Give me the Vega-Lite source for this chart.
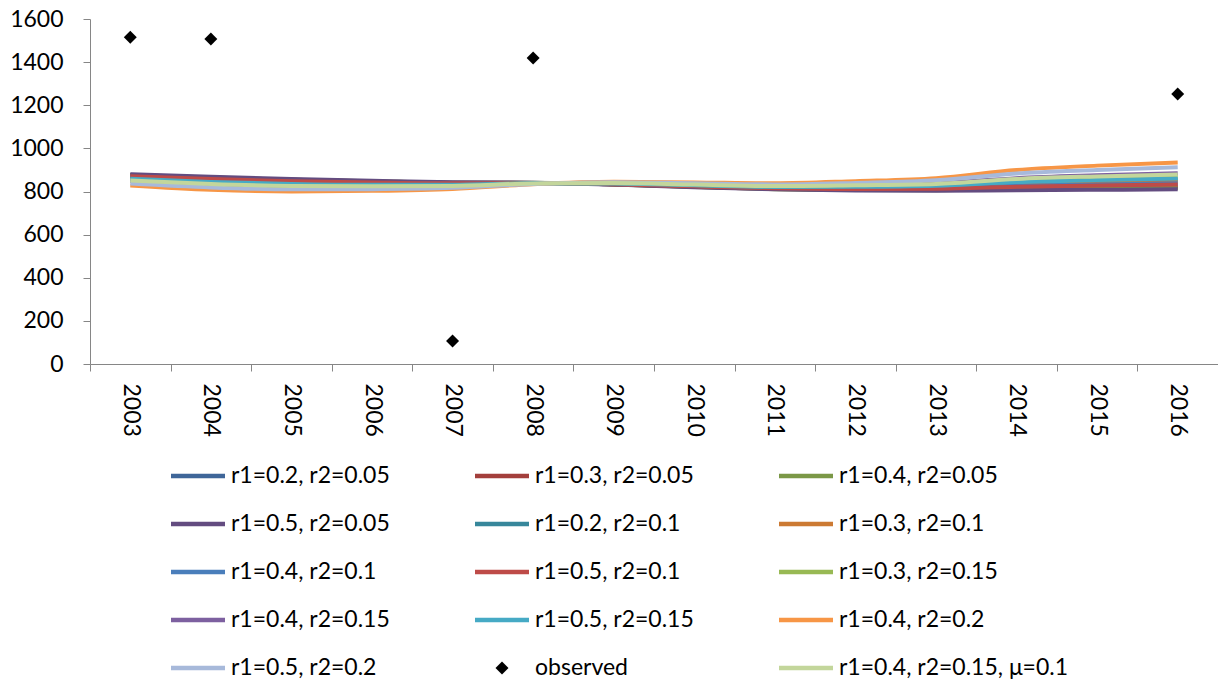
{
"$schema": "https://vega.github.io/schema/vega-lite/v6.json",
"width": 1128, "height": 345,
"autosize": {"type": "none"},
"padding": {"left": 90, "top": 19, "right": 0, "bottom": 323},
"background": "white",
"config": {
  "view": {"stroke": null},
  "font": "Lato",
  "axis": {"labelFont": "Lato", "labelFontSize": 23, "labelColor": "black", "domainColor": "#868686", "tickColor": "#868686", "domainWidth": 1, "tickWidth": 1, "tickSize": 7, "grid": false, "title": null},
  "legend": {"orient": "none", "legendX": 90, "legendY": 439, "columns": 3, "direction": "horizontal", "gridAlign": "each", "symbolSize": 1296, "labelFont": "Lato", "labelFontSize": 23, "labelColor": "black", "rowPadding": 18, "columnPadding": 85, "labelOffset": 15, "labelLimit": 400, "symbolStrokeWidth": 0, "symbolOpacity": 1}
},
"datasets": {"d": [
{"y":"2003","s":"r1=0.2, r2=0.05","v":874},{"y":"2004","s":"r1=0.2, r2=0.05","v":861},{"y":"2005","s":"r1=0.2, r2=0.05","v":851},{"y":"2006","s":"r1=0.2, r2=0.05","v":844},{"y":"2007","s":"r1=0.2, r2=0.05","v":839},{"y":"2008","s":"r1=0.2, r2=0.05","v":840},{"y":"2009","s":"r1=0.2, r2=0.05","v":834},{"y":"2010","s":"r1=0.2, r2=0.05","v":823},{"y":"2011","s":"r1=0.2, r2=0.05","v":814},{"y":"2012","s":"r1=0.2, r2=0.05","v":810},{"y":"2013","s":"r1=0.2, r2=0.05","v":810},{"y":"2014","s":"r1=0.2, r2=0.05","v":818},{"y":"2015","s":"r1=0.2, r2=0.05","v":822},{"y":"2016","s":"r1=0.2, r2=0.05","v":826},
{"y":"2003","s":"r1=0.3, r2=0.05","v":876},{"y":"2004","s":"r1=0.3, r2=0.05","v":864},{"y":"2005","s":"r1=0.3, r2=0.05","v":854},{"y":"2006","s":"r1=0.3, r2=0.05","v":846},{"y":"2007","s":"r1=0.3, r2=0.05","v":841},{"y":"2008","s":"r1=0.3, r2=0.05","v":840},{"y":"2009","s":"r1=0.3, r2=0.05","v":833},{"y":"2010","s":"r1=0.3, r2=0.05","v":822},{"y":"2011","s":"r1=0.3, r2=0.05","v":812},{"y":"2012","s":"r1=0.3, r2=0.05","v":808},{"y":"2013","s":"r1=0.3, r2=0.05","v":807},{"y":"2014","s":"r1=0.3, r2=0.05","v":813},{"y":"2015","s":"r1=0.3, r2=0.05","v":816},{"y":"2016","s":"r1=0.3, r2=0.05","v":819},
{"y":"2003","s":"r1=0.4, r2=0.05","v":877},{"y":"2004","s":"r1=0.4, r2=0.05","v":865},{"y":"2005","s":"r1=0.4, r2=0.05","v":855},{"y":"2006","s":"r1=0.4, r2=0.05","v":848},{"y":"2007","s":"r1=0.4, r2=0.05","v":841},{"y":"2008","s":"r1=0.4, r2=0.05","v":841},{"y":"2009","s":"r1=0.4, r2=0.05","v":833},{"y":"2010","s":"r1=0.4, r2=0.05","v":821},{"y":"2011","s":"r1=0.4, r2=0.05","v":811},{"y":"2012","s":"r1=0.4, r2=0.05","v":807},{"y":"2013","s":"r1=0.4, r2=0.05","v":806},{"y":"2014","s":"r1=0.4, r2=0.05","v":811},{"y":"2015","s":"r1=0.4, r2=0.05","v":814},{"y":"2016","s":"r1=0.4, r2=0.05","v":816},
{"y":"2003","s":"r1=0.5, r2=0.05","v":880},{"y":"2004","s":"r1=0.5, r2=0.05","v":868},{"y":"2005","s":"r1=0.5, r2=0.05","v":858},{"y":"2006","s":"r1=0.5, r2=0.05","v":850},{"y":"2007","s":"r1=0.5, r2=0.05","v":843},{"y":"2008","s":"r1=0.5, r2=0.05","v":841},{"y":"2009","s":"r1=0.5, r2=0.05","v":832},{"y":"2010","s":"r1=0.5, r2=0.05","v":820},{"y":"2011","s":"r1=0.5, r2=0.05","v":810},{"y":"2012","s":"r1=0.5, r2=0.05","v":805},{"y":"2013","s":"r1=0.5, r2=0.05","v":803},{"y":"2014","s":"r1=0.5, r2=0.05","v":806},{"y":"2015","s":"r1=0.5, r2=0.05","v":808},{"y":"2016","s":"r1=0.5, r2=0.05","v":810},
{"y":"2003","s":"r1=0.2, r2=0.1","v":862},{"y":"2004","s":"r1=0.2, r2=0.1","v":847},{"y":"2005","s":"r1=0.2, r2=0.1","v":838},{"y":"2006","s":"r1=0.2, r2=0.1","v":834},{"y":"2007","s":"r1=0.2, r2=0.1","v":832},{"y":"2008","s":"r1=0.2, r2=0.1","v":839},{"y":"2009","s":"r1=0.2, r2=0.1","v":837},{"y":"2010","s":"r1=0.2, r2=0.1","v":828},{"y":"2011","s":"r1=0.2, r2=0.1","v":820},{"y":"2012","s":"r1=0.2, r2=0.1","v":820},{"y":"2013","s":"r1=0.2, r2=0.1","v":824},{"y":"2014","s":"r1=0.2, r2=0.1","v":839},{"y":"2015","s":"r1=0.2, r2=0.1","v":847},{"y":"2016","s":"r1=0.2, r2=0.1","v":854},
{"y":"2003","s":"r1=0.3, r2=0.1","v":866},{"y":"2004","s":"r1=0.3, r2=0.1","v":852},{"y":"2005","s":"r1=0.3, r2=0.1","v":842},{"y":"2006","s":"r1=0.3, r2=0.1","v":837},{"y":"2007","s":"r1=0.3, r2=0.1","v":834},{"y":"2008","s":"r1=0.3, r2=0.1","v":839},{"y":"2009","s":"r1=0.3, r2=0.1","v":836},{"y":"2010","s":"r1=0.3, r2=0.1","v":826},{"y":"2011","s":"r1=0.3, r2=0.1","v":818},{"y":"2012","s":"r1=0.3, r2=0.1","v":817},{"y":"2013","s":"r1=0.3, r2=0.1","v":819},{"y":"2014","s":"r1=0.3, r2=0.1","v":832},{"y":"2015","s":"r1=0.3, r2=0.1","v":839},{"y":"2016","s":"r1=0.3, r2=0.1","v":844},
{"y":"2003","s":"r1=0.4, r2=0.1","v":868},{"y":"2004","s":"r1=0.4, r2=0.1","v":855},{"y":"2005","s":"r1=0.4, r2=0.1","v":845},{"y":"2006","s":"r1=0.4, r2=0.1","v":839},{"y":"2007","s":"r1=0.4, r2=0.1","v":836},{"y":"2008","s":"r1=0.4, r2=0.1","v":839},{"y":"2009","s":"r1=0.4, r2=0.1","v":835},{"y":"2010","s":"r1=0.4, r2=0.1","v":825},{"y":"2011","s":"r1=0.4, r2=0.1","v":816},{"y":"2012","s":"r1=0.4, r2=0.1","v":815},{"y":"2013","s":"r1=0.4, r2=0.1","v":816},{"y":"2014","s":"r1=0.4, r2=0.1","v":827},{"y":"2015","s":"r1=0.4, r2=0.1","v":833},{"y":"2016","s":"r1=0.4, r2=0.1","v":838},
{"y":"2003","s":"r1=0.5, r2=0.1","v":871},{"y":"2004","s":"r1=0.5, r2=0.1","v":858},{"y":"2005","s":"r1=0.5, r2=0.1","v":848},{"y":"2006","s":"r1=0.5, r2=0.1","v":842},{"y":"2007","s":"r1=0.5, r2=0.1","v":838},{"y":"2008","s":"r1=0.5, r2=0.1","v":840},{"y":"2009","s":"r1=0.5, r2=0.1","v":834},{"y":"2010","s":"r1=0.5, r2=0.1","v":824},{"y":"2011","s":"r1=0.5, r2=0.1","v":815},{"y":"2012","s":"r1=0.5, r2=0.1","v":812},{"y":"2013","s":"r1=0.5, r2=0.1","v":813},{"y":"2014","s":"r1=0.5, r2=0.1","v":822},{"y":"2015","s":"r1=0.5, r2=0.1","v":828},{"y":"2016","s":"r1=0.5, r2=0.1","v":832},
{"y":"2003","s":"r1=0.3, r2=0.15","v":855},{"y":"2004","s":"r1=0.3, r2=0.15","v":840},{"y":"2005","s":"r1=0.3, r2=0.15","v":830},{"y":"2006","s":"r1=0.3, r2=0.15","v":828},{"y":"2007","s":"r1=0.3, r2=0.15","v":828},{"y":"2008","s":"r1=0.3, r2=0.15","v":838},{"y":"2009","s":"r1=0.3, r2=0.15","v":838},{"y":"2010","s":"r1=0.3, r2=0.15","v":830},{"y":"2011","s":"r1=0.3, r2=0.15","v":823},{"y":"2012","s":"r1=0.3, r2=0.15","v":825},{"y":"2013","s":"r1=0.3, r2=0.15","v":831},{"y":"2014","s":"r1=0.3, r2=0.15","v":851},{"y":"2015","s":"r1=0.3, r2=0.15","v":861},{"y":"2016","s":"r1=0.3, r2=0.15","v":869},
{"y":"2003","s":"r1=0.4, r2=0.15","v":849},{"y":"2004","s":"r1=0.4, r2=0.15","v":832},{"y":"2005","s":"r1=0.4, r2=0.15","v":823},{"y":"2006","s":"r1=0.4, r2=0.15","v":822},{"y":"2007","s":"r1=0.4, r2=0.15","v":824},{"y":"2008","s":"r1=0.4, r2=0.15","v":837},{"y":"2009","s":"r1=0.4, r2=0.15","v":840},{"y":"2010","s":"r1=0.4, r2=0.15","v":833},{"y":"2011","s":"r1=0.4, r2=0.15","v":827},{"y":"2012","s":"r1=0.4, r2=0.15","v":831},{"y":"2013","s":"r1=0.4, r2=0.15","v":838},{"y":"2014","s":"r1=0.4, r2=0.15","v":862},{"y":"2015","s":"r1=0.4, r2=0.15","v":875},{"y":"2016","s":"r1=0.4, r2=0.15","v":885},
{"y":"2003","s":"r1=0.5, r2=0.15","v":859},{"y":"2004","s":"r1=0.5, r2=0.15","v":844},{"y":"2005","s":"r1=0.5, r2=0.15","v":835},{"y":"2006","s":"r1=0.5, r2=0.15","v":831},{"y":"2007","s":"r1=0.5, r2=0.15","v":831},{"y":"2008","s":"r1=0.5, r2=0.15","v":838},{"y":"2009","s":"r1=0.5, r2=0.15","v":837},{"y":"2010","s":"r1=0.5, r2=0.15","v":829},{"y":"2011","s":"r1=0.5, r2=0.15","v":821},{"y":"2012","s":"r1=0.5, r2=0.15","v":822},{"y":"2013","s":"r1=0.5, r2=0.15","v":827},{"y":"2014","s":"r1=0.5, r2=0.15","v":844},{"y":"2015","s":"r1=0.5, r2=0.15","v":853},{"y":"2016","s":"r1=0.5, r2=0.15","v":860},
{"y":"2003","s":"r1=0.4, r2=0.2","v":828},{"y":"2004","s":"r1=0.4, r2=0.2","v":808},{"y":"2005","s":"r1=0.4, r2=0.2","v":800},{"y":"2006","s":"r1=0.4, r2=0.2","v":803},{"y":"2007","s":"r1=0.4, r2=0.2","v":812},{"y":"2008","s":"r1=0.4, r2=0.2","v":834},{"y":"2009","s":"r1=0.4, r2=0.2","v":845},{"y":"2010","s":"r1=0.4, r2=0.2","v":842},{"y":"2011","s":"r1=0.4, r2=0.2","v":838},{"y":"2012","s":"r1=0.4, r2=0.2","v":848},{"y":"2013","s":"r1=0.4, r2=0.2","v":862},{"y":"2014","s":"r1=0.4, r2=0.2","v":900},{"y":"2015","s":"r1=0.4, r2=0.2","v":920},{"y":"2016","s":"r1=0.4, r2=0.2","v":935},
{"y":"2003","s":"r1=0.5, r2=0.2","v":837},{"y":"2004","s":"r1=0.5, r2=0.2","v":819},{"y":"2005","s":"r1=0.5, r2=0.2","v":810},{"y":"2006","s":"r1=0.5, r2=0.2","v":811},{"y":"2007","s":"r1=0.5, r2=0.2","v":817},{"y":"2008","s":"r1=0.5, r2=0.2","v":835},{"y":"2009","s":"r1=0.5, r2=0.2","v":843},{"y":"2010","s":"r1=0.5, r2=0.2","v":838},{"y":"2011","s":"r1=0.5, r2=0.2","v":833},{"y":"2012","s":"r1=0.5, r2=0.2","v":840},{"y":"2013","s":"r1=0.5, r2=0.2","v":852},{"y":"2014","s":"r1=0.5, r2=0.2","v":884},{"y":"2015","s":"r1=0.5, r2=0.2","v":900},{"y":"2016","s":"r1=0.5, r2=0.2","v":913},
{"y":"2003","s":"r1=0.4, r2=0.15, μ=0.1","v":851},{"y":"2004","s":"r1=0.4, r2=0.15, μ=0.1","v":835},{"y":"2005","s":"r1=0.4, r2=0.15, μ=0.1","v":826},{"y":"2006","s":"r1=0.4, r2=0.15, μ=0.1","v":824},{"y":"2007","s":"r1=0.4, r2=0.15, μ=0.1","v":826},{"y":"2008","s":"r1=0.4, r2=0.15, μ=0.1","v":837},{"y":"2009","s":"r1=0.4, r2=0.15, μ=0.1","v":839},{"y":"2010","s":"r1=0.4, r2=0.15, μ=0.1","v":832},{"y":"2011","s":"r1=0.4, r2=0.15, μ=0.1","v":825},{"y":"2012","s":"r1=0.4, r2=0.15, μ=0.1","v":829},{"y":"2013","s":"r1=0.4, r2=0.15, μ=0.1","v":835},{"y":"2014","s":"r1=0.4, r2=0.15, μ=0.1","v":858},{"y":"2015","s":"r1=0.4, r2=0.15, μ=0.1","v":870},{"y":"2016","s":"r1=0.4, r2=0.15, μ=0.1","v":879},
{"y":"2003","s":"observed","v":1515},{"y":"2004","s":"observed","v":1507},{"y":"2007","s":"observed","v":107},{"y":"2008","s":"observed","v":1419},{"y":"2016","s":"observed","v":1252}
]},
"data": {"name": "d"},
"encoding": {
  "x": {"field": "y", "type": "ordinal", "scale": {"type": "band", "paddingInner": 0, "paddingOuter": 0, "domain": ["2003","2004","2005","2006","2007","2008","2009","2010","2011","2012","2013","2014","2015","2016"]}, "axis": {"labelAngle": 90, "tickBand": "extent", "labelPadding": 12}},
  "y": {"field": "v", "type": "quantitative", "scale": {"domain": [0, 1600], "nice": false}, "axis": {"values": [0,200,400,600,800,1000,1200,1400,1600], "format": "d", "labelPadding": 20}}
},
"layer": [
  {"transform": [{"filter": "datum.s !== 'observed'"}],
   "mark": {"type": "line", "interpolate": "monotone", "strokeWidth": 4},
   "encoding": {"color": {"field": "s", "type": "nominal", "legend": {"title": null},
     "scale": {"domain": ["r1=0.2, r2=0.05","r1=0.3, r2=0.05","r1=0.4, r2=0.05","r1=0.5, r2=0.05","r1=0.2, r2=0.1","r1=0.3, r2=0.1","r1=0.4, r2=0.1","r1=0.5, r2=0.1","r1=0.3, r2=0.15","r1=0.4, r2=0.15","r1=0.5, r2=0.15","r1=0.4, r2=0.2","r1=0.5, r2=0.2","observed","r1=0.4, r2=0.15, μ=0.1"],
       "range": ["#3F6699","#A33F3C","#7B9847","#634C80","#37879B","#CC7A33","#4A7EBB","#BE4B48","#98B954","#7D60A0","#46AAC5","#F79646","#A7B9DA","#000000","#C3D69B"]}}}},
  {"transform": [{"filter": "datum.s === 'observed'"}],
   "mark": {"type": "point", "filled": true, "size": 1296, "opacity": 1},
   "encoding": {
     "color": {"field": "s", "type": "nominal", "legend": {"title": null}},
     "shape": {"field": "s", "type": "nominal", "legend": {"title": null},
       "scale": {"domain": ["r1=0.2, r2=0.05","r1=0.3, r2=0.05","r1=0.4, r2=0.05","r1=0.5, r2=0.05","r1=0.2, r2=0.1","r1=0.3, r2=0.1","r1=0.4, r2=0.1","r1=0.5, r2=0.1","r1=0.3, r2=0.15","r1=0.4, r2=0.15","r1=0.5, r2=0.15","r1=0.4, r2=0.2","r1=0.5, r2=0.2","observed","r1=0.4, r2=0.15, μ=0.1"],
         "range": ["M-1.5,-0.12H1.5V0.12H-1.5Z","M-1.5,-0.12H1.5V0.12H-1.5Z","M-1.5,-0.12H1.5V0.12H-1.5Z","M-1.5,-0.12H1.5V0.12H-1.5Z","M-1.5,-0.12H1.5V0.12H-1.5Z","M-1.5,-0.12H1.5V0.12H-1.5Z","M-1.5,-0.12H1.5V0.12H-1.5Z","M-1.5,-0.12H1.5V0.12H-1.5Z","M-1.5,-0.12H1.5V0.12H-1.5Z","M-1.5,-0.12H1.5V0.12H-1.5Z","M-1.5,-0.12H1.5V0.12H-1.5Z","M-1.5,-0.12H1.5V0.12H-1.5Z","M-1.5,-0.12H1.5V0.12H-1.5Z","M0,-0.36L0.36,0L0,0.36L-0.36,0Z","M-1.5,-0.12H1.5V0.12H-1.5Z"]}}
   }}
]
}
